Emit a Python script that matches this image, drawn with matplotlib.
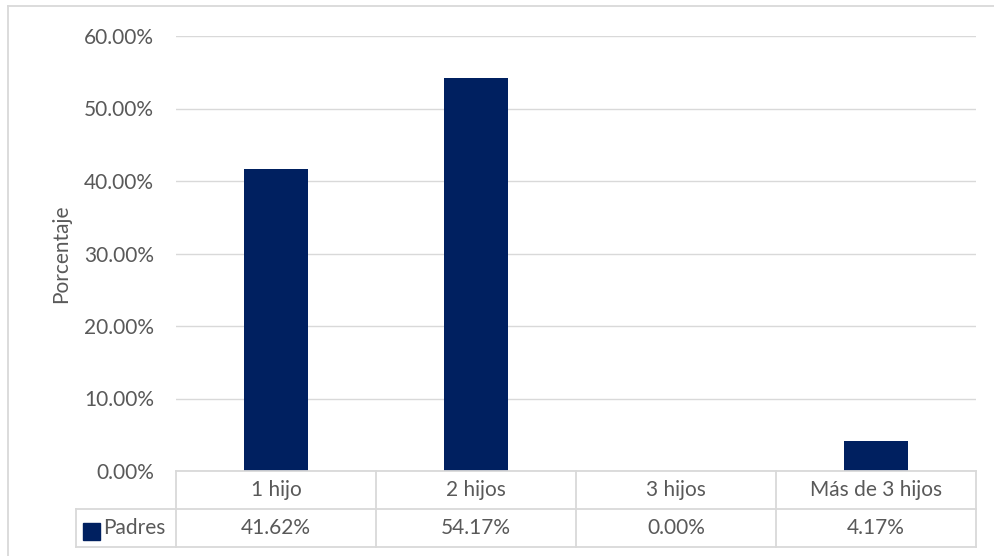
import matplotlib.pyplot as plt
from matplotlib.lines import Line2D
from matplotlib.patches import Rectangle
from matplotlib.ticker import FuncFormatter

# datos
categorias = ["1 hijo", "2 hijos", "3 hijos", "Más de 3 hijos"]
padres = [41.62, 54.17, 0.00, 4.17]
serie = "Padres"

AZUL = "#002060"
GRIS_TXT = "#595959"
GRIS_LIN = "#d9d9d9"
FS = 15

plt.rcParams["font.family"] = ["Lato", "DejaVu Sans"]

W, H = 994, 556
fig = plt.figure(figsize=(W / 100, H / 100), dpi=100)

def fx(px):
    return px / W

def fy(py):
    return 1 - py / H

# area del grafico (pixeles)
x0, x1 = 176, 976
y_top, y_bot = 36, 471
ax = fig.add_axes([fx(x0), fy(y_bot), fx(x1) - fx(x0), (y_bot - y_top) / H])

xs = range(len(categorias))
ax.bar(xs, padres, width=0.32, color=AZUL, zorder=3)
ax.set_xlim(-0.5, len(categorias) - 0.5)
ax.set_ylim(0, 60)
ax.set_yticks(range(0, 61, 10))
ax.yaxis.set_major_formatter(FuncFormatter(lambda v, p: f"{v:.2f}%"))
ax.tick_params(axis="y", length=0, pad=16, labelsize=FS, labelcolor=GRIS_TXT)
ax.set_xticks([])
ax.grid(axis="y", color=GRIS_LIN, linewidth=1, zorder=0)
for s in ax.spines.values():
    s.set_visible(False)
ax.set_ylabel("Porcentaje", fontsize=FS, color=GRIS_TXT, labelpad=9)

# tabla de datos
fila1, fila2 = 509, 547
leg_x = 76
col_w = (x1 - x0) / len(categorias)
kw = dict(color=GRIS_LIN, linewidth=1.3)
fig.add_artist(Line2D([fx(x0), fx(x1)], [fy(y_bot), fy(y_bot)], **kw))
fig.add_artist(Line2D([fx(leg_x), fx(x1)], [fy(fila1), fy(fila1)], **kw))
fig.add_artist(Line2D([fx(leg_x), fx(x1)], [fy(fila2), fy(fila2)], **kw))
fig.add_artist(Line2D([fx(leg_x), fx(leg_x)], [fy(fila1), fy(fila2)], **kw))
for i in range(len(categorias) + 1):
    xp = x0 + i * col_w
    fig.add_artist(Line2D([fx(xp), fx(xp)], [fy(y_bot), fy(fila2)], **kw))

for i, (cat, val) in enumerate(zip(categorias, padres)):
    cx = x0 + (i + 0.5) * col_w
    fig.text(fx(cx), fy((y_bot + fila1) / 2), cat, ha="center", va="center",
             fontsize=FS, color=GRIS_TXT)
    fig.text(fx(cx), fy((fila1 + fila2) / 2), f"{val:.2f}%", ha="center",
             va="center", fontsize=FS, color=GRIS_TXT)

fig.add_artist(Rectangle((fx(83), fy(540)), fx(17), 17 / H, color=AZUL,
                         transform=fig.transFigure))
fig.text(fx(103), fy((fila1 + fila2) / 2), serie, ha="left", va="center",
         fontsize=FS, color=GRIS_TXT)

# borde exterior
fig.add_artist(Line2D([fx(8), fx(8)], [fy(6), fy(556)], color=GRIS_LIN, linewidth=1.3))
fig.add_artist(Line2D([fx(8), fx(994)], [fy(6), fy(6)], color=GRIS_LIN, linewidth=1.3))

fig.savefig("out.png", dpi=100, facecolor="white")
